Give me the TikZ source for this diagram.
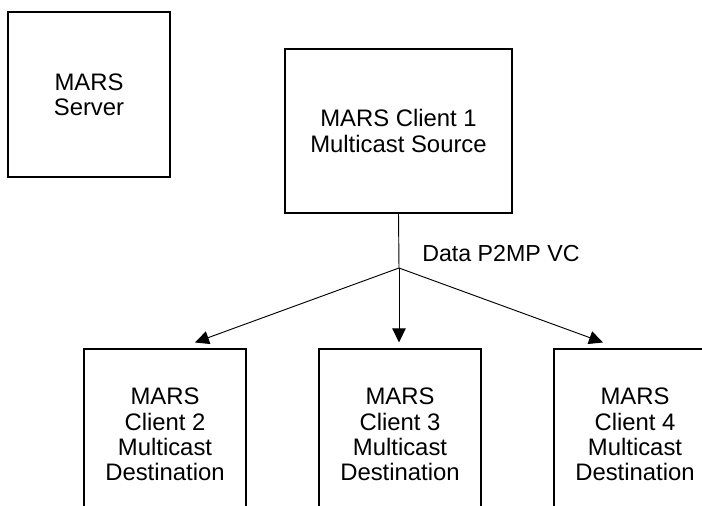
\documentclass[tikz,border=0pt]{standalone}
\usepackage{fontspec}
\setmainfont{Liberation Sans}
\usetikzlibrary{arrows.meta,calc}
\begin{document}
\begin{tikzpicture}[x=0.75pt,y=-0.75pt,
  box/.style={draw=black,line width=0.8pt,align=center,inner sep=0pt,
    font=\fontsize{17.9pt}{18.9pt}\selectfont},
  conn/.style={draw=black,line width=0.7pt},
  arr/.style={conn,-{Triangle[length=10.5pt,width=10pt]}}]
\useasboundingbox (0,0) rectangle (702,506);
\clip (0,0) rectangle (702,506);
\node[box,minimum width=121.5pt,minimum height=123.75pt] (srv) at (89,94.5) {MARS\\Server};
\node[box,minimum width=170.25pt,minimum height=123pt] (c1) at (398.5,131) {MARS Client 1\\Multicast Source};
\node[box,minimum width=121.5pt,minimum height=128.25pt] (c2) at (165,434.5) {MARS\\Client 2\\Multicast\\Destination};
\node[box,minimum width=121.5pt,minimum height=128.25pt] (c3) at (400,434.5) {MARS\\Client 3\\Multicast\\Destination};
\node[box,minimum width=121.5pt,minimum height=128.25pt] (c4) at (635,434.5) {MARS\\Client 4\\Multicast\\Destination};
\coordinate (j) at (399,268);
\draw[conn] (c1.south) -- (j);
\draw[arr] (j) -- ($(c2.north)+(30,-6)$);
\draw[arr] (j) -- ($(c3.north)+(-1,-6)$);
\draw[arr] (j) -- ($(c4.north)+(-32,-6)$);
\node[anchor=base west,inner sep=0pt,font=\fontsize{17.4pt}{18.75pt}\selectfont] (lbl) at (422,261) {Data P2MP VC};
\end{tikzpicture}
\end{document}
